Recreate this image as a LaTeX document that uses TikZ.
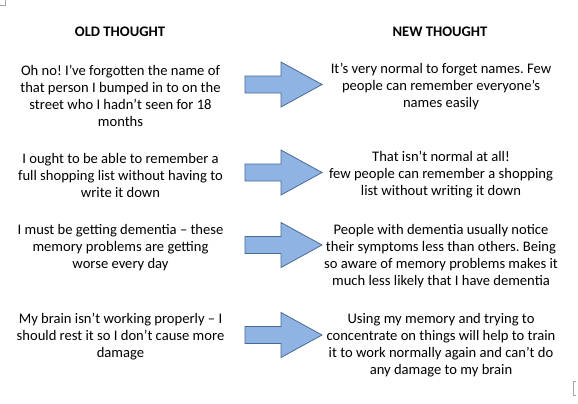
\documentclass[tikz,border=0pt]{standalone}
\usepackage{fontspec}
\setmainfont{Carlito}
\frenchspacing
\definecolor{arrowfill}{HTML}{8FB4E3}
\definecolor{arrowline}{HTML}{4A6A94}
\tikzset{
  thought/.style={align=center, inner sep=0pt, font=\fontsize{14.6}{17}\selectfont},
  heading/.style={thought, font=\fontsize{14.6}{17}\selectfont\bfseries},
  blockarrow/.style={fill=arrowfill, draw=arrowline, line width=0.8pt, line join=miter}
}
\newcommand{\blockarrowat}[2]{%
  \coordinate (#1) at (0,#2);
  \draw[blockarrow] ([shift={(245,-8.5)}]#1) -- ([shift={(281,-8.5)}]#1) -- ([shift={(281,-22.5)}]#1)
    -- ([shift={(322,0)}]#1) -- ([shift={(281,22.5)}]#1) -- ([shift={(281,8.5)}]#1)
    -- ([shift={(245,8.5)}]#1) -- cycle;}
\begin{document}
\begin{tikzpicture}[x=1pt,y=-1pt]
\useasboundingbox (0,0) rectangle (578,404);
% small page marks
\draw[gray!70, line width=0.5pt] (0,5.5) -- (5.5,5.5) -- (5.5,0);
\draw[gray!70, line width=0.7pt] (575.5,381) -- (573.5,381) -- (573.5,395) -- (575.5,395);
\node[heading] (oldh) at (120,32) {OLD THOUGHT};
\node[heading] (newh) at (440,32) {NEW THOUGHT};
\node[thought] (l1) at (120.5,95.5) {Oh no! I’ve forgotten the name of\\that person I bumped in to on the\\street who I hadn’t seen for 18\\months};
\node[thought] (r1) at (441,87) {It’s very normal to forget names. Few\\people can remember everyone’s\\names easily};
\node[thought] (l2) at (120.5,175) {I ought to be able to remember a\\full shopping list without having to\\write it down};
\node[thought] (r2) at (441,175) {That isn’t normal at all!\\few people can remember a shopping\\list without writing it down};
\node[thought] (l3) at (120.5,248) {I must be getting dementia – these\\memory problems are getting\\worse every day};
\node[thought] (r3) at (441,256.5) {People with dementia usually notice\\their symptoms less than others. Being\\so aware of memory problems makes it\\much less likely that I have dementia};
\node[thought] (l4) at (120.5,337) {My brain isn’t working properly – I\\should rest it so I don’t cause more\\damage};
\node[thought] (r4) at (441,345.5) {Using my memory and trying to\\concentrate on things will help to train\\it to work normally again and can’t do\\any damage to my brain};
\blockarrowat{a1}{84.5}
\blockarrowat{a2}{172.5}
\blockarrowat{a3}{245}
\blockarrowat{a4}{335}
\end{tikzpicture}
\end{document}
